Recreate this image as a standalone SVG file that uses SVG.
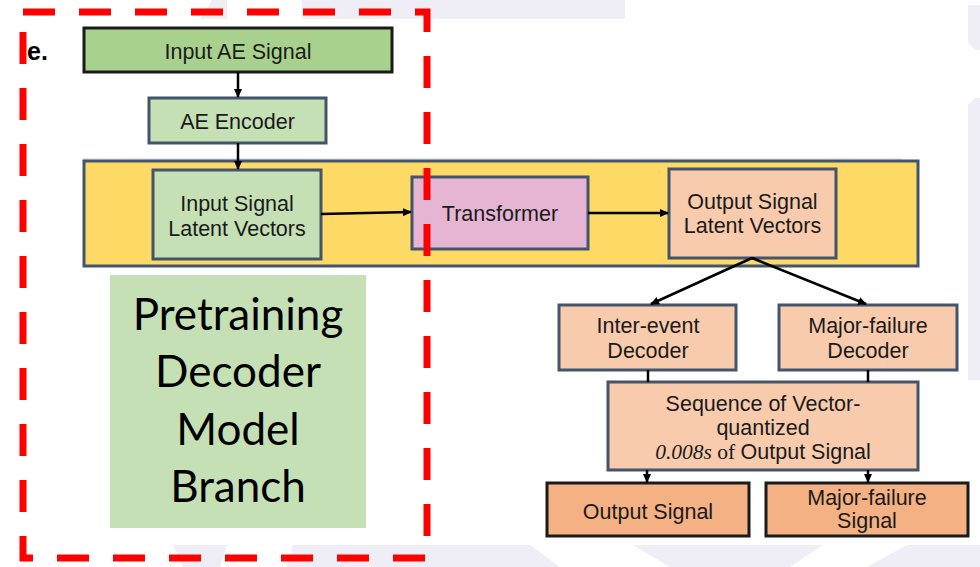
<svg xmlns="http://www.w3.org/2000/svg" width="980" height="567" viewBox="0 0 980 567">
  <style>
    .lbl { font-family: "Liberation Sans", Arial, sans-serif; font-size: 21.5px; fill: #1a1a1a; text-anchor: middle; }
    .big { font-family: Lato, "Open Sans", sans-serif; font-size: 44px; fill: #000; text-anchor: middle; }
    .slate { stroke: #44546a; stroke-width: 3; }
    .dark { stroke: #1a1a1a; stroke-width: 3; }
    .conn { stroke: #000; stroke-width: 2.5; fill: none; }
    .bg { fill: #efeef7; }
  </style>
  <defs>
    <marker id="arrow" markerUnits="userSpaceOnUse" markerWidth="9" markerHeight="8" refX="8" refY="4" orient="auto">
      <path d="M0,0 L9,4 L0,8 z" fill="#000"/>
    </marker>
  </defs>

  <rect width="980" height="567" fill="#ffffff"/>

  <!-- faint backdrop patches -->
  <g id="backdrop">
    <polygon class="bg" points="200,19 212,0 227,0 227,19"/>
    <polygon class="bg" points="302,0 625,0 625,19 302,19"/>
    <polygon class="bg" points="968,5 980,5 980,50 975,50 968,42"/>
    <polygon class="bg" points="968,105 975,98 980,98 980,380 968,380"/>
    <polygon class="bg" points="173,545 227,545 220,567 183,567"/>
    <polygon class="bg" points="293,545 980,545 980,567 287,567"/>
    <polygon fill="#ffffff" points="530,545 633,545 670,567 560,567"/>
    <polygon fill="#ffffff" points="823,545 907,545 867,567 790,567"/>
    <line x1="83" y1="159" x2="902" y2="159" stroke="#cfcfdc" stroke-width="1.2"/>
  </g>

  <!-- panel tag -->
  <text x="27" y="60" font-family="Liberation Sans, Arial, sans-serif" font-size="25" font-weight="bold" fill="#000">e.</text>

  <!-- latent-space band -->
  <g id="latent-band">
    <rect x="84" y="161" width="834" height="105" fill="#fdd966" class="slate"/>
  </g>

  <g id="input-ae-signal">
    <rect x="84" y="28" width="308" height="44" fill="#a9d18e" class="dark"/>
    <text class="lbl" x="238" y="59">Input AE Signal</text>
  </g>

  <g id="ae-encoder">
    <rect x="149" y="98" width="177" height="45" fill="#c5e0b4" class="slate"/>
    <text class="lbl" x="237.5" y="129">AE Encoder</text>
  </g>

  <g id="input-latent">
    <rect x="153" y="170" width="168" height="89" fill="#c5e0b4" class="slate"/>
    <text class="lbl" x="237" y="211">Input Signal</text>
    <text class="lbl" x="237" y="236">Latent Vectors</text>
  </g>

  <g id="transformer">
    <rect x="412" y="177" width="176" height="72" fill="#e6b5d3" class="slate"/>
    <text class="lbl" x="500" y="221">Transformer</text>
  </g>

  <g id="output-latent">
    <rect x="669" y="169" width="167" height="89" fill="#f8cbad" class="slate"/>
    <text class="lbl" x="752.5" y="209">Output Signal</text>
    <text class="lbl" x="752.5" y="233">Latent Vectors</text>
  </g>

  <g id="inter-event-decoder">
    <rect x="559" y="305" width="177" height="65" fill="#f8cbad" class="slate"/>
    <text class="lbl" x="648" y="333">Inter-event</text>
    <text class="lbl" x="648" y="358">Decoder</text>
  </g>

  <g id="major-failure-decoder">
    <rect x="779" y="305" width="178" height="65" fill="#f8cbad" class="slate"/>
    <text class="lbl" x="868" y="333">Major-failure</text>
    <text class="lbl" x="868" y="358">Decoder</text>
  </g>

  <g id="vq-sequence">
    <rect x="608" y="382" width="310" height="88" fill="#f8cbad" class="slate"/>
    <text class="lbl" x="763" y="411">Sequence of Vector-</text>
    <text class="lbl" x="763" y="435">quantized</text>
    <text class="lbl" x="763" y="459"><tspan font-family="Liberation Serif, 'Times New Roman', serif" font-style="italic">0.008s</tspan><tspan font-family="Liberation Serif, 'Times New Roman', serif"> of </tspan>Output Signal</text>
  </g>

  <g id="output-signal">
    <rect x="547" y="483" width="202" height="53" fill="#f4b183" class="dark"/>
    <text class="lbl" x="648" y="519">Output Signal</text>
  </g>

  <g id="major-failure-signal">
    <rect x="766" y="483" width="202" height="53" fill="#f4b183" class="dark"/>
    <text class="lbl" x="867" y="505">Major-failure</text>
    <text class="lbl" x="867" y="528">Signal</text>
  </g>

  <g id="pretraining-branch">
    <rect x="110" y="275" width="256" height="253" fill="#c5e0b4"/>
    <text class="big" x="238" y="330">Pretraining</text>
    <text class="big" x="238" y="387">Decoder</text>
    <text class="big" x="238" y="445">Model</text>
    <text class="big" x="238" y="502">Branch</text>
  </g>

  <g id="connectors">
    <line class="conn" x1="238" y1="72" x2="238" y2="97" marker-end="url(#arrow)"/>
    <line class="conn" x1="238" y1="143" x2="238" y2="169" marker-end="url(#arrow)"/>
    <line class="conn" x1="321" y1="214" x2="411" y2="212" marker-end="url(#arrow)"/>
    <line class="conn" x1="588" y1="213" x2="668" y2="213" marker-end="url(#arrow)"/>
    <line class="conn" stroke-width="3" x1="752" y1="258" x2="651" y2="304" marker-end="url(#arrow)"/>
    <line class="conn" stroke-width="3" x1="752" y1="258" x2="866" y2="304" marker-end="url(#arrow)"/>
    <line class="conn" x1="648" y1="370" x2="648" y2="382"/>
    <line class="conn" x1="868" y1="370" x2="868" y2="382"/>
    <line class="conn" x1="647" y1="470" x2="647" y2="482" marker-end="url(#arrow)"/>
    <line class="conn" x1="868" y1="470" x2="868" y2="482" marker-end="url(#arrow)"/>
  </g>

  <!-- highlight frame around the pretraining side -->
  <rect x="23" y="12" width="404" height="546" fill="none" stroke="#ff0000" stroke-width="7" stroke-dasharray="32 24"/>
</svg>
